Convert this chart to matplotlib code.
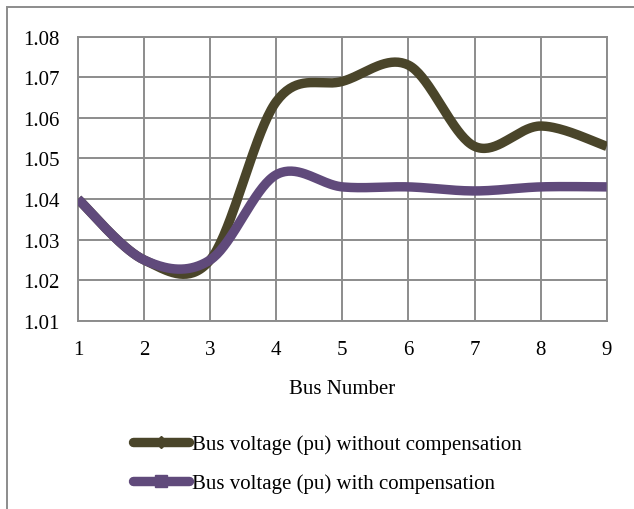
import numpy as np
import matplotlib.pyplot as plt
from matplotlib.lines import Line2D
from matplotlib.patches import Rectangle

plt.rcParams['font.family'] = ['Liberation Serif', 'DejaVu Serif']

bus = [1, 2, 3, 4, 5, 6, 7, 8, 9]
v_without = [1.040, 1.025, 1.025, 1.064, 1.069, 1.073, 1.053, 1.058, 1.053]
v_with = [1.040, 1.025, 1.025, 1.046, 1.043, 1.043, 1.042, 1.043, 1.043]
yticks = [1.01, 1.02, 1.03, 1.04, 1.05, 1.06, 1.07, 1.08]

dark = '#4a452a'
purple = '#604a7b'
grid_col = '#8c8c8c'


def smooth(x, y, n=40):
    # spreadsheet-style smoothed line: cubic bezier through each pair of points
    x = np.asarray(x, float)
    y = np.asarray(y, float)
    px = np.concatenate([[x[0]], x, [x[-1]]])
    py = np.concatenate([[y[0]], y, [y[-1]]])
    t = np.linspace(0, 1, n)[:, None]
    xs, ys = [], []
    for i in range(len(x) - 1):
        p0 = np.array([px[i + 1], py[i + 1]])
        p3 = np.array([px[i + 2], py[i + 2]])
        p1 = p0 + (np.array([px[i + 2], py[i + 2]]) - np.array([px[i], py[i]])) / 6
        p2 = p3 - (np.array([px[i + 3], py[i + 3]]) - np.array([px[i + 1], py[i + 1]])) / 6
        b = ((1 - t) ** 3) * p0 + 3 * ((1 - t) ** 2) * t * p1 + 3 * (1 - t) * t ** 2 * p2 + t ** 3 * p3
        xs.append(b[:, 0])
        ys.append(b[:, 1])
    return np.concatenate(xs), np.concatenate(ys)


fig = plt.figure(figsize=(6.34, 5.10), dpi=100)
ax = fig.add_axes([0.123, 0.369, 0.834, 0.557])

xs, ys = smooth(bus, v_without)
ax.plot(xs, ys, color=dark, lw=6.8, solid_capstyle='butt', zorder=3)
xs, ys = smooth(bus, v_with)
ax.plot(xs, ys, color=purple, lw=6.8, solid_capstyle='butt', zorder=4)

ax.set_xlim(1, 9)
ax.set_ylim(1.01, 1.08)
ax.set_xticks(bus)
ax.set_yticks(yticks)
ax.set_yticklabels(['%.2f' % v for v in yticks])
ax.tick_params(length=0, labelsize=15, pad=14)
ax.tick_params(axis='y', pad=13)
ax.grid(True, color=grid_col, lw=1.4)
for s in ax.spines.values():
    s.set_color(grid_col)
    s.set_linewidth(1.4)
ax.set_xlabel('Bus Number', fontsize=15, labelpad=14)

handles = [
    Line2D([], [], color=dark, lw=6.8, marker='D', markersize=6, solid_capstyle='round'),
    Line2D([], [], color=purple, lw=6.8, marker='s', markersize=9, solid_capstyle='round'),
]
labels = ['Bus voltage (pu) without compensation', 'Bus voltage (pu) with compensation']
fig.legend(handles, labels, loc='upper left', bbox_to_anchor=(0.197, 0.163),
           frameon=False, fontsize=15, handlelength=2.7, handletextpad=0.1,
           labelspacing=0.95, borderaxespad=0)

# chart-area border
fig.add_artist(Rectangle((6.5 / 634, -0.1), 2, 1 - 7.5 / 510 + 0.1,
                         transform=fig.transFigure, fill=False,
                         edgecolor='#8c8c8c', lw=1.4))

fig.savefig('out.png', dpi=100)
